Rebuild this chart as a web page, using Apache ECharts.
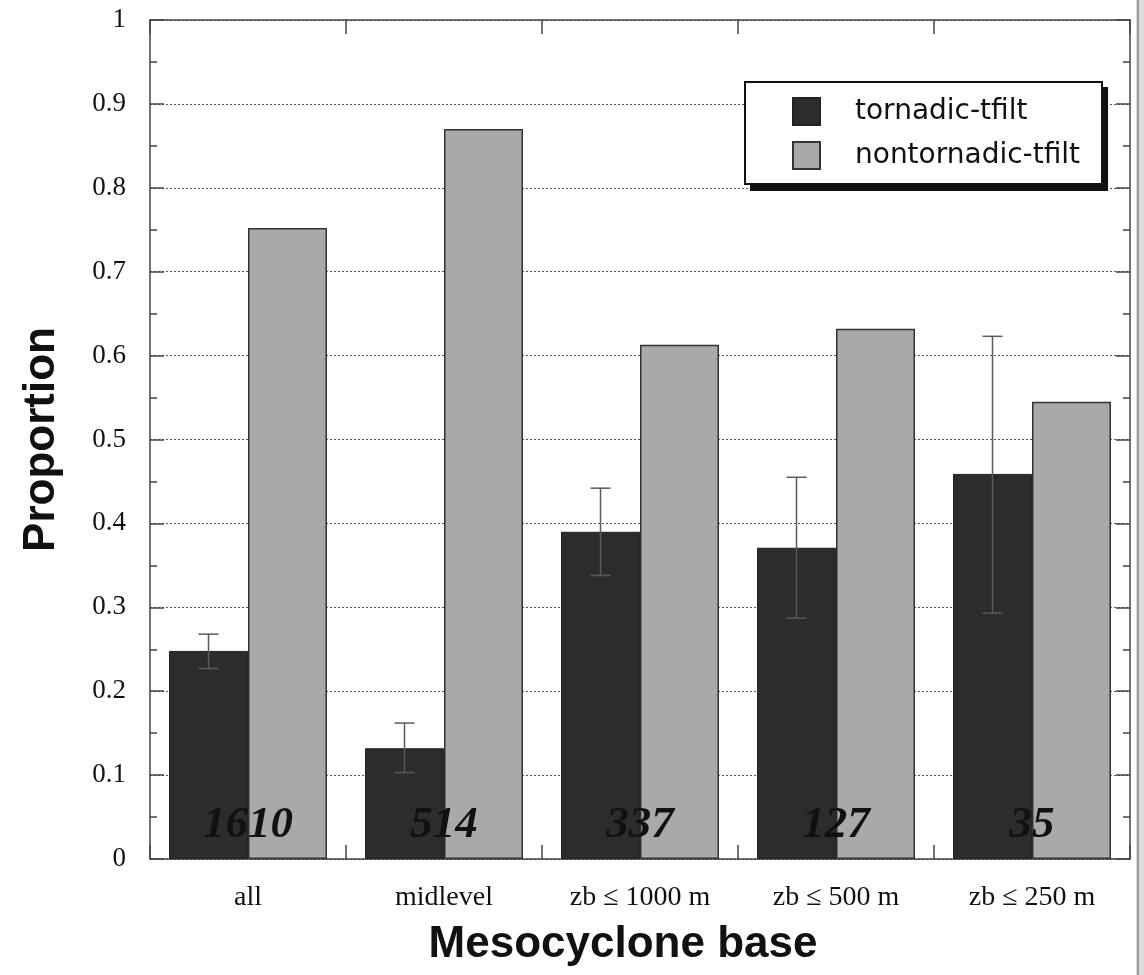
<!DOCTYPE html>
<html>
<head>
<meta charset="utf-8">
<script src="https://cdn.jsdelivr.net/npm/echarts@6/dist/echarts.min.js"></script>
<style>html,body{margin:0;padding:0;background:#fff;}#c{width:1144px;height:975px;}</style>
</head>
<body>
<div id="c"></div>
<script>
const categories = ['all', 'midlevel', 'zb \u2264 1000 m', 'zb \u2264 500 m', 'zb \u2264 250 m'];
const tornadic = [0.248, 0.132, 0.390, 0.371, 0.459];
const nontornadic = [0.752, 0.870, 0.613, 0.632, 0.545];
const errLow = [0.227, 0.103, 0.338, 0.287, 0.293];
const errHigh = [0.268, 0.162, 0.442, 0.455, 0.623];
const counts = ['1610', '514', '337', '127', '35'];
const yTicks = [0, 0.1, 0.2, 0.3, 0.4, 0.5, 0.6, 0.7, 0.8, 0.9, 1];

const chart = echarts.init(document.getElementById('c'), null, {renderer: 'canvas'});
const axisColor = '#444';
const serif = '"Liberation Serif", "Times New Roman", serif';
const sans = '"DejaVu Sans", Verdana, sans-serif';
const helv = '"Liberation Sans", Arial, sans-serif';

const errData = categories.map((c, i) => [i, errLow[i], errHigh[i]]);
const countData = categories.map((c, i) => [i, 0, counts[i]]);

chart.setOption({
  backgroundColor: '#fff',
  animation: false,
  grid: {left: 150, right: 14, top: 20, bottom: 116, containLabel: false},
  legend: {
    orient: 'vertical',
    left: 744, top: 81,
    data: ['tornadic-tfilt', 'nontornadic-tfilt'],
    icon: 'rect',
    itemWidth: 27, itemHeight: 27, itemGap: 15,
    padding: [16, 22, 15, 48],
    backgroundColor: '#fff',
    borderWidth: 0,
    shadowColor: '#111', shadowBlur: 0, shadowOffsetX: 6, shadowOffsetY: 6,
    textStyle: {fontFamily: sans, fontSize: 28, lineHeight: 27, color: '#111', padding: [0, 0, 0, 30]},
    z: 10
  },
  graphic: [
    {type: 'rect', shape: {x: 745, y: 82, width: 357, height: 102}, style: {fill: 'none', stroke: '#111', lineWidth: 2}, z: 50, silent: true},
    {type: 'rect', shape: {x: 1136, y: 0, width: 8, height: 975}, style: {fill: '#ddd'}, z: 0, silent: true},
    {type: 'rect', shape: {x: 1137, y: 0, width: 2, height: 975}, style: {fill: '#999'}, z: 0, silent: true}
  ],
  xAxis: [
    {
      type: 'category', data: categories, position: 'bottom',
      axisLine: {show: true, onZero: false, lineStyle: {color: axisColor, width: 1.5}},
      axisTick: {show: true, inside: true, length: 14, interval: 0, alignWithLabel: false, lineStyle: {color: axisColor, width: 1.5}},
      axisLabel: {fontFamily: serif, fontSize: 28, color: '#111', margin: 25, interval: 0},
      name: 'Mesocyclone base', nameLocation: 'middle', nameGap: 64,
      nameTextStyle: {fontFamily: helv, fontSize: 44, color: '#111', fontWeight: 'bold', padding: [0, 34, 0, 0]},
      splitLine: {show: false}
    },
    {
      type: 'category', data: categories, position: 'top',
      axisLine: {show: true, onZero: false, lineStyle: {color: axisColor, width: 1.5}},
      axisTick: {show: true, inside: true, length: 14, interval: 0, alignWithLabel: false, lineStyle: {color: axisColor, width: 1.5}},
      axisLabel: {show: false}, splitLine: {show: false}
    }
  ],
  yAxis: [
    {
      type: 'value', min: 0, max: 1, interval: 0.1, position: 'left',
      axisLine: {show: true, onZero: false, lineStyle: {color: axisColor, width: 1.5}},
      axisTick: {show: true, inside: true, length: 14, lineStyle: {color: axisColor, width: 1.5}},
      minorTick: {show: true, splitNumber: 2, length: 7, lineStyle: {color: axisColor, width: 1.5}},
      axisLabel: {fontFamily: serif, fontSize: 27, color: '#111', margin: 24,
        formatter: v => { const t = yTicks.find(x => Math.abs(x - v) < 1e-6); return t === undefined ? '' : String(t); }},
      splitLine: {show: true, lineStyle: {color: '#555', width: 1, type: [2, 2]}},
      name: 'Proportion', nameLocation: 'middle', nameGap: 86,
      nameTextStyle: {fontFamily: helv, fontSize: 44, color: '#111', fontWeight: 'bold'}
    },
    {
      type: 'value', min: 0, max: 1, interval: 0.1, position: 'right',
      axisLine: {show: true, onZero: false, lineStyle: {color: axisColor, width: 1.5}},
      axisTick: {show: true, inside: true, length: 14, lineStyle: {color: axisColor, width: 1.5}},
      minorTick: {show: true, splitNumber: 2, length: 7, lineStyle: {color: axisColor, width: 1.5}},
      axisLabel: {show: false}, splitLine: {show: false}
    }
  ],
  series: [
    {
      name: 'tornadic-tfilt', type: 'bar', data: tornadic,
      barWidth: 79, barGap: '0%',
      itemStyle: {color: '#2c2c2c', borderColor: '#222', borderWidth: 1},
      z: 3
    },
    {
      name: 'nontornadic-tfilt', type: 'bar', data: nontornadic,
      barWidth: 79, barGap: '0%',
      itemStyle: {color: '#a9a9a9', borderColor: '#333', borderWidth: 1.5},
      z: 3
    },
    {
      type: 'custom', name: 'err', data: errData, z: 6, silent: true,
      renderItem: function (params, api) {
        const i = api.value(0);
        const lo = api.coord([i, api.value(1)]);
        const hi = api.coord([i, api.value(2)]);
        const bw = api.size([1, 0])[0];
        const cx = lo[0] - bw * 0.2015;
        const cap = 10;
        const st = {stroke: '#5a5a5a', lineWidth: 1.5};
        return {type: 'group', children: [
          {type: 'line', shape: {x1: cx, y1: lo[1], x2: cx, y2: hi[1]}, style: st},
          {type: 'line', shape: {x1: cx - cap, y1: lo[1], x2: cx + cap, y2: lo[1]}, style: st},
          {type: 'line', shape: {x1: cx - cap, y1: hi[1], x2: cx + cap, y2: hi[1]}, style: st}
        ]};
      }
    },
    {
      type: 'custom', name: 'counts', data: countData, z: 7, silent: true,
      renderItem: function (params, api) {
        const i = api.value(0);
        const p = api.coord([i, 0]);
        return {type: 'text', style: {
          text: counts[i], x: p[0], y: p[1] - 11,
          font: 'italic bold 45px ' + serif, fill: '#111',
          textAlign: 'center', textVerticalAlign: 'bottom'
        }};
      }
    }
  ]
});
</script>
</body>
</html>
